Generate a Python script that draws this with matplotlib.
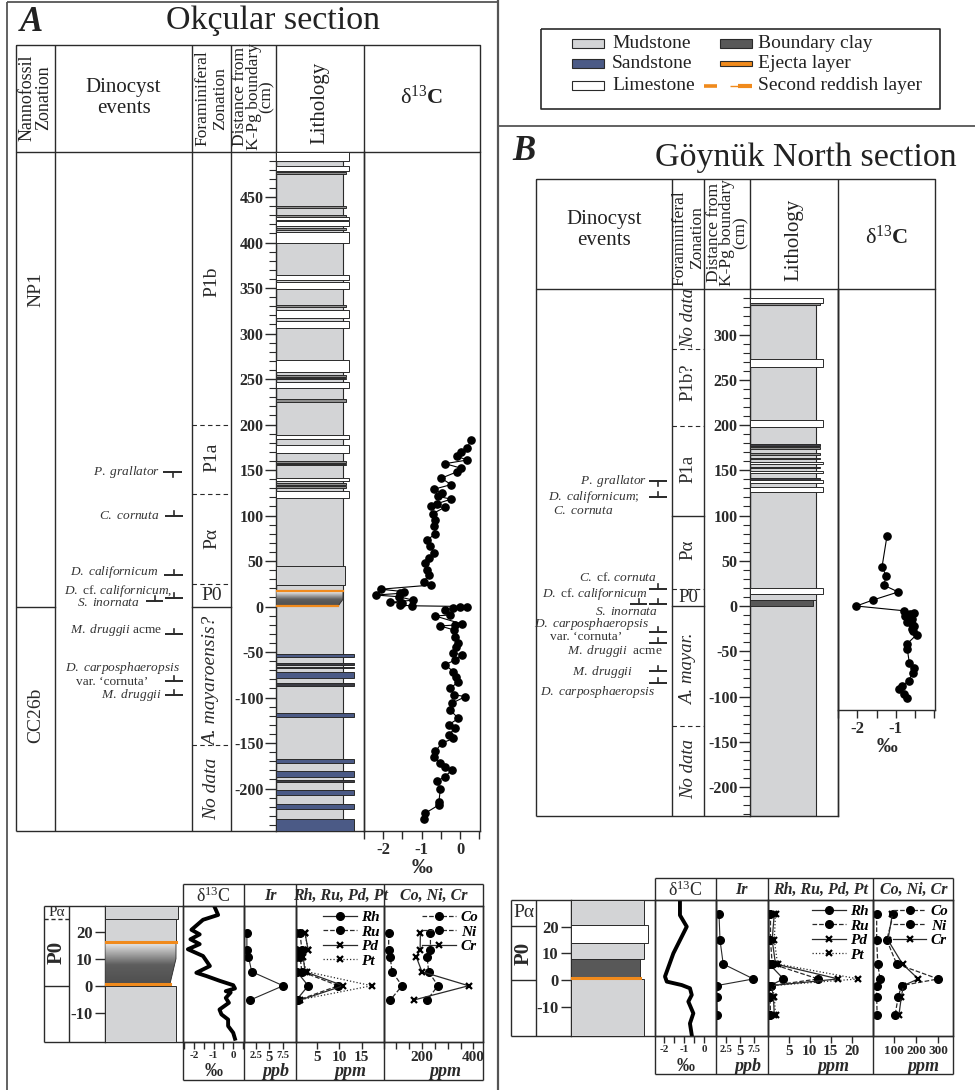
import numpy as np
import matplotlib
matplotlib.use('Agg')
import matplotlib.pyplot as plt
from matplotlib.patches import Rectangle, Polygon
from matplotlib.colors import LinearSegmentedColormap

plt.rcParams['font.family'] = ['Liberation Serif', 'DejaVu Serif']
plt.rcParams['mathtext.fontset'] = 'custom'
plt.rcParams['mathtext.rm'] = 'Liberation Serif'
plt.rcParams['mathtext.it'] = 'Liberation Serif:italic'
plt.rcParams['mathtext.bf'] = 'Liberation Serif:bold'
plt.rcParams['mathtext.bfit'] = 'Liberation Serif:italic:bold'
plt.rcParams['axes.unicode_minus'] = False

INK = '#2a2a2a'
MUD = '#d3d4d6'
SAND = '#4b5a86'
CLAY = '#585858'
ORANGE = '#f08a1c'
THIN = '#8d8d8d'

# ================= DATA =================
# --- A: Okcular section, d13C (depth cm, permil) ---
ok_d13c_depth = [183, 174, 170, 165, 161, 157, 152, 148, 141, 134, 129, 124.5, 121, 118, 113, 110, 109,
                 102, 95, 88, 80, 73, 66, 59, 53, 47.5, 40, 34.6, 27, 23.6, 19, 16.3, 14.5, 12.6,
                 10.8, 7, 4.6, 3.5, 1.5, 0.8, 0, -1, -2, -3.8, -9.3, -10.4, -19, -20.3, -21.4,
                 -25.8, -33, -40, -45, -51, -53, -58.8, -64, -71.6, -77, -82.6, -90, -97, -99,
                 -106, -113.7, -123, -130, -134, -141, -145, -150, -159, -165, -172, -176, -179.6,
                 -187, -192, -200, -214.5, -218, -227, -233]
ok_d13c = [0.28, 0.19, 0.03, -0.08, 0.19, -0.39, 0.03, -0.08, -0.49, -0.23, -0.67, -0.47, -0.57, -0.23,
           -0.60, -0.75, -0.40, -0.71, -0.64, -0.68, -0.64, -0.86, -0.77, -0.68, -0.82, -0.90, -0.86,
           -0.82, -0.95, -0.75, -2.07, -1.45, -1.55, -2.20, -1.60, -1.22, -1.82, -1.52, -1.56, -1.26,
           0.19, 0.00, -0.17, -0.39, -0.26, -0.65, 0.04, -0.13, -0.52, -0.15, -0.13, -0.04, -0.10,
           -0.17, 0.04, -0.13, -0.39, -0.17, -0.10, -0.04, -0.26, -0.15, 0.14, -0.20, -0.26, -0.04,
           -0.30, -0.13, -0.30, -0.17, -0.47, -0.64, -0.68, -0.51, -0.39, -0.21, -0.39, -0.60, -0.51,
           -0.55, -0.55, -0.90, -0.95]

ok_bed_top = [500, 484, 477, 440, 430, 428, 424, 416, 412, 364, 357, 331, 326, 314, 271, 254, 251, 247,
              228, 188, 178, 160, 157, 141, 136, 132, 127, 45, -52.5, -62.5, -66, -71.5, -84, -117.5,
              -168, -180.5, -190.5, -201.5, -217, -234]
ok_bed_bot = [490, 479, 475.5, 438, 428.5, 425, 418, 414, 399, 359, 349, 329, 317, 306, 258, 252, 250,
              240, 225, 184, 169, 158, 155, 138, 134, 130, 119, 24, -56, -64.5, -68, -79, -87.5, -121,
              -172.5, -187.5, -193, -207.5, -222, -246.7]
ok_bed_kind = ['lime', 'lime', 'thin', 'thin', 'thin', 'lime', 'lime', 'thin', 'lime', 'lime', 'lime',
               'thin', 'lime', 'lime', 'lime', 'thin', 'thin', 'lime', 'thin', 'lime', 'lime', 'thin',
               'thin', 'lime', 'thin', 'thin', 'lime', 'mudw', 'sand', 'dark', 'dark', 'sand', 'dark',
               'sand', 'sand', 'sand', 'dark', 'sand', 'sand', 'sand']
ok_mud_span = (490, -246.7)
ok_clay_span = (16.7, 0.3)
ok_reddish = 16.7
ok_ejecta = 0.4

ok_nanno_bounds = [0]
ok_nanno_names = ['NP1', 'CC26b']
ok_nanno_mid = [348, -120]

ok_foram_bounds = [200, 124, 24.5, 0, -152]
ok_foram_solid = [False, False, False, True, False]
ok_foram_names = ['P1b', 'P1a', 'Pα', 'P0', 'A. mayaroensis?', 'No data']
ok_foram_mid = [357, 164, 75, 12.5, -82, -200]

ok_event_text = [r'$\mathit{P.\ grallator}$', r'$\mathit{C.\ cornuta}$', r'$\mathit{D.\ californicum}$',
                 r'$\mathit{D.}$ cf. $\mathit{californicum,}$', r'$\mathit{S.\ inornata}$',
                 r'$\mathit{M.\ druggii}$ acme', r'$\mathit{D.\ carposphaeropsis}$', 'var. ‘cornuta’',
                 r'$\mathit{M.\ druggii}$']
ok_event_depth = [148, 99, 38, 17, 3.5, -26, -68, -82.5, -97]
ok_mark_depth = [148, 99, 34.6, 9.7, 6, -30.5, -82, -97]
ok_mark_up = [False, True, True, True, True, True, True, True]

# --- A: detail of the boundary interval ---
okd_bed_top = [29.5, 24.7, 0]
okd_bed_bot = [24.7, 16.3, -20.7]
okd_bed_kind = ['mudw', 'mud', 'mud']
okd_clay_span = (16.3, 0.7)
okd_reddish = 16.3
okd_ejecta = 0.7
okd_zone_bounds = [24.7, 0]
okd_zone_solid = [False, True]
okd_zone_names = ['Pα', 'P0']
okd_zone_mid = [27.1, 12.3]

okd_d13c_depth = [29, 26.2, 24.4, 20.7, 19, 17.2, 15.4, 13.5, 11, 7.3, 4.8, 3.6, 1.8, 0.2, -1, -2, -2.5,
                  -4.5, -6.3, -8.8, -10.6, -12.5, -14.9, -17.4, -19.6]
okd_d13c = [-0.94, -0.77, -1.54, -2.13, -1.71, -2.18, -1.71, -2.31, -1.54, -1.19, -1.88, -1.37, -0.68,
            0.0, 0.09, -0.38, -0.13, -0.38, -0.22, -0.70, -0.60, -0.26, -0.26, 0.0, 0.09]
okg_depth = [19.4, 13.2, 10.7, 5.2, 0, -5.3]
ok_ir = [0.8, 0.8, 1.1, 1.7, 7.6, 1.4]
ok_rh = [0.5, 0.5, 0.5, 0.6, 3.1, 0.5]
ok_ru = [1.3, 1.7, 1.3, 1.7, 9.8, 0.9]
ok_pd = [2.4, 3.1, 2.0, 2.4, 10.9, 1.3]
ok_pt = [2.4, 3.1, 1.7, 2.8, 17.2, 0.9]
ok_co = [71, 71, 77, 84, 123, 77]
ok_ni = [233, 233, 220, 226, 262, 220]
ok_cr = [194, 193, 178, 200, 381, 168]

# --- B: Goynuk North section ---
gn_d13c_depth = [77.7, 43.4, 33, 23.2, 15.5, 6.6, 0, -5.2, -7.4, -9, -11, -14.7, -16, -18, -20, -22,
                 -25.8, -28, -31.7, -42.4, -48, -62.7, -68, -73.6, -82.8, -88.4, -92, -97.6, -102]
gn_d13c = [-1.23, -1.36, -1.25, -1.32, -0.94, -1.60, -2.03, -0.80, -0.53, -0.62, -0.76, -0.57, -0.62,
           -0.70, -0.58, -0.53, -0.57, -0.55, -0.46, -0.72, -0.70, -0.65, -0.53, -0.56, -0.67, -0.84,
           -0.93, -0.80, -0.72]

gn_bed_top = [340, 334.5, 273.5, 206, 179, 175.5, 169, 164, 159, 154, 149, 141.5, 139.5, 132, 19.6, 13]
gn_bed_bot = [334.5, 333, 264, 197.5, 177, 174, 167, 162, 157, 152, 147, 139.5, 135.5, 125.5, 13, 6.6]
gn_bed_kind = ['lime', 'thin', 'lime', 'lime', 'dark', 'thin', 'thin', 'thin', 'lime', 'thin', 'lime',
               'dark', 'lime', 'lime', 'lime', 'mudw']
gn_mud_span = (333, -232)
gn_clay_span = (6.6, 0)

gn_foram_bounds = [283.5, 199, 100, 19, 0, -132.5]
gn_foram_solid = [False, False, True, False, True, False]
gn_foram_names = ['No data', 'P1b?', 'P1a', 'Pα', 'P0', 'A. mayar.', 'No data']
gn_foram_mid = [318, 247, 152, 62, 9, -70, -180]

gn_event_text = [r'$\mathit{P.\ grallator}$', r'$\mathit{D.\ californicum;}$', r'$\mathit{C.\ cornuta}$',
                 r'$\mathit{C.}$ cf. $\mathit{cornuta}$', r'$\mathit{D.}$ cf. $\mathit{californicum}$',
                 r'$\mathit{S.\ inornata}$', r'$\mathit{D.\ carposphaeropsis}$', "var. ‘cornuta’",
                 r'$\mathit{M.\ druggii}$  acme', r'$\mathit{M.\ druggii}$', r'$\mathit{D.\ carposphaeropsis}$']
gn_event_depth = [138, 121, 105, 31.3, 13.3, -6.3, -20.3, -34, -49.7, -72.6, -94.7]
gn_mark_depth = [138, 120.8, 18.8, 2.2, 2.2, -28.4, -40.5, -72, -85.4]
gn_mark_up = [False, True, True, True, True, True, True, True, True]

# --- B: detail ---
gnd_bed_top = [30, 20.5, 14, 7.7, 0.3]
gnd_bed_bot = [20.5, 14, 7.7, 1.0, -21]
gnd_bed_kind = ['mud', 'lime', 'mud', 'clay', 'mud']
gnd_ejecta = 0.9
gnd_zone_bounds = [20.3, 0]
gnd_zone_solid = [True, True]
gnd_zone_names = ['Pα', 'P0']
gnd_zone_mid = [25.2, 10.1]

gnd_d13c_depth = [29.3, 24.3, 20, 10, 1.3, -0.6, -1.9, -3.1, -5.6, -8.1, -12.5, -16.3, -20.6]
gnd_d13c = [-1.22, -1.22, -0.88, -1.55, -1.97, -1.88, -1.13, -0.72, -0.63, -0.80, -0.55, -0.72, -0.63]
gng_depth = [24.7, 15, 6, 0.4, -2.1, -6.2, -13.1]
gn_ir = [1.25, 1.43, 2.0, 7.4, 0.83, 0.83, 0.95]
gn_rh = [0.2, 0.2, 0.3, 3.7, 0.5, 0.2, 0.2]
gn_ru = [0.6, 0.6, 1.0, 12.0, 0.8, 0.5, 0.6]
gn_pd = [1.5, 1.0, 1.8, 16.8, 0.8, 1.3, 1.5]
gn_pt = [1.8, 1.5, 2.3, 21.6, 1.0, 1.5, 1.8]
gn_co = [25, 25, 30, 40, 25, 25, 27]
gn_ni = [99, 70, 114, 299, 136, 121, 107]
gn_cr = [95, 75, 140, 210, 144, 135, 124]

ITALIC_ZONES = {'A. mayaroensis?', 'A. mayar.', 'No data'}

# ================= FIGURE =================
W, H = 975, 1090
fig = plt.figure(figsize=(W / 100, H / 100), dpi=100)


def px_ax(x0, y0, x1, y1):
    ax = fig.add_axes([x0 / W, 1 - y1 / H, (x1 - x0) / W, (y1 - y0) / H])
    ax.patch.set_visible(False)
    return ax


def spines(ax, show):
    for k, s in ax.spines.items():
        s.set_visible(k in show)
        s.set_color(INK)
        s.set_linewidth(1.0)


cv = px_ax(0, 0, W, H)
cv.set_xlim(0, W)
cv.set_ylim(H, 0)
cv.axis('off')


def ln(xs, ys, lw=1.0, color=INK, **kw):
    cv.plot(xs, ys, color=color, lw=lw, solid_capstyle='butt', **kw)


def rect(x0, y0, x1, y1, lw=1.0):
    ln([x0, x1, x1, x0, x0], [y0, y0, y1, y1, y0], lw=lw)


FACE = {'lime': 'white', 'thin': THIN, 'sand': SAND, 'dark': '#3c3c44', 'mud': MUD, 'mudw': MUD,
        'clay': CLAY}


def draw_beds(ax, x0, tops, bots, kinds, right):
    for t, b, k in zip(tops, bots, kinds):
        ax.add_patch(Rectangle((x0, b), right[k] - x0, t - b, fc=FACE[k], ec=INK, lw=0.7, zorder=3))


def clay_gradient(ax, x0, x_top, x_bot, span, slant):
    top, bot = span
    poly = Polygon([(x0, bot), (x0, top), (x_top, top), (x_top, slant), (x_bot, bot)],
                   closed=True, fc='none', ec=INK, lw=0.6, zorder=4)
    ax.add_patch(poly)
    cmap = LinearSegmentedColormap.from_list('clay', [(0, '#4f4f4f'), (0.45, '#5e5e5e'), (1, '#f4f4f4')])
    im = ax.imshow(np.linspace(0, 1, 100).reshape(-1, 1), extent=[x0, x_top, bot, top], origin='lower',
                   aspect='auto', cmap=cmap, zorder=3)
    im.set_clip_path(poly)


def depth_ticks(ax, majors, minors, size, majlen=8, minlen=5):
    ax.set_yticks(majors, labels=[str(int(v)) for v in majors], fontweight='bold', fontsize=size,
                  color=INK)
    ax.set_yticks(minors, minor=True)
    ax.tick_params(axis='y', which='major', length=majlen, width=1, pad=1, color=INK)
    ax.tick_params(axis='y', which='minor', length=minlen, width=0.8, color=INK)
    ax.set_xticks([])


def events(ax, texts, depths, xs, mdepths, mups, mx0, mx1, tick):
    for t, d, x in zip(texts, depths, xs):
        ax.text(x, d, t, ha='right', va='center', fontsize=9.6, color='#333333')
    for d, up, a, b in zip(mdepths, mups, mx0, mx1):
        ax.plot([a, b], [d, d], color=INK, lw=1.4, solid_capstyle='butt')
        xm = (a + b) / 2
        ax.plot([xm, xm], [d, d + (tick if up else -tick)], color=INK, lw=1.2)


def zone_col(ax, xa, xb, bounds, solid, names, mids, size=14):
    for d, s in zip(bounds, solid):
        ax.plot([xa, xb], [d, d], color=INK, lw=1.0 if s else 0.8, ls='-' if s else (0, (4, 3)))
    for n, m in zip(names, mids):
        rot = 0 if n == 'P0' else 90
        ax.text((xa + xb) / 2, m, n, rotation=rot, ha='center', va='center', fontsize=size,
                style='italic' if n in ITALIC_ZONES else 'normal', color=INK)


# ---------------- frames ----------------
ln([7, 7], [2, H], lw=1.3, color='#555555')
ln([7, 498], [2, 2], lw=1.3, color='#555555')
ln([498, 498], [0, H], lw=1.6, color='#555555')
ln([498, W], [126, 126], lw=1.3, color='#555555')

cv.text(20, 31, 'A', fontsize=25, fontweight='bold', style='italic', va='baseline', color='#222')
cv.text(273, 29, 'Okçular section', fontsize=24.5, ha='center', va='baseline', color='#222')
cv.text(512, 160, 'B', fontsize=25, fontweight='bold', style='italic', va='baseline', color='#222')
cv.text(806, 166, 'Göynük North section', fontsize=24.5, ha='center', va='baseline', color='#222')

# legend
rect(541, 29, 940, 109, lw=1.2)
leg_items = [('Mudstone', MUD, 572, 43.3), ('Sandstone', SAND, 572, 63.3), ('Limestone', 'white', 572, 85),
             ('Boundary clay', CLAY, 720, 43.3)]
for name, c, x, y in leg_items:
    cv.add_patch(Rectangle((x, y - 4.5), 31.5, 9, fc=c, ec=INK, lw=0.8))
    cv.text(x + 40 if x < 700 else x + 38, y, name, fontsize=14, va='center', color='#222')
cv.add_patch(Rectangle((720, 61), 31.5, 4.5, fc=ORANGE, ec=INK, lw=0.8))
cv.text(758, 63.3, 'Ejecta layer', fontsize=14, va='center', color='#222')
ln([704, 717], [85.5, 85.5], lw=2.6, color=ORANGE)
ln([730, 738], [85.5, 85.5], lw=1.0, color=ORANGE)
ln([738, 752], [85.5, 85.5], lw=3.0, color=ORANGE)
cv.text(758, 85, 'Second reddish layer', fontsize=14, va='center', color='#222')

# ---------------- A header ----------------
rect(16, 45, 480, 152)
for x in [55, 192, 231, 276, 364]:
    ln([x, x], [45, 152])
for x in [16, 55, 192, 231]:
    ln([x, x], [152, 831])
ln([16, 276], [831, 831])
cv.text(35.5, 97.5, 'Nannofossil\nZonation', rotation=90, ha='center', va='center', fontsize=13,
        linespacing=1.0, color='#222')
cv.text(123.5, 98, 'Dinocyst\nevents', ha='center', va='center', fontsize=15, linespacing=1.15,
        color='#222')
cv.text(211.5, 98.5, 'Foraminiferal\nZonation', rotation=90, ha='center', va='center', fontsize=12.5,
        linespacing=1.1, color='#222')
cv.text(253.5, 97, 'Distance from\nK-Pg boundary\n(cm)', rotation=90, ha='center', va='center',
        fontsize=12.5, linespacing=0.78, color='#222')
cv.text(320, 103, 'Lithology', rotation=90, ha='center', va='center', fontsize=15, color='#222')
cv.text(422, 97, r'δ$^{13}\mathbf{C}$', ha='center', va='center', fontsize=16, color='#222')

# ---------------- A body ----------------
A_YLIM = (-246.7, 499.5)
bA = px_ax(16, 152, 480, 831)
bA.set_xlim(16, 480)
bA.axis('off')
zone_col(bA, 16, 55, ok_nanno_bounds, [True], ok_nanno_names, ok_nanno_mid)
zone_col(bA, 192, 231, ok_foram_bounds, ok_foram_solid, ok_foram_names, ok_foram_mid)
events(bA, ok_event_text, ok_event_depth, [160, 160, 158, 172, 140, 162, 180, 148, 162],
       ok_mark_depth, ok_mark_up, [163, 165, 164, 165, 146, 165, 165, 165],
       [182, 183, 183, 183, 163, 183, 183, 183], 5.5)
bA.set_ylim(A_YLIM)

lA = px_ax(276, 152, 364, 831)
spines(lA, ['left', 'right', 'bottom'])
lA.add_patch(Rectangle((276, ok_mud_span[1]), 343 - 276, ok_mud_span[0] - ok_mud_span[1], fc=MUD,
                       ec=INK, lw=0.8, zorder=2))
draw_beds(lA, 276, ok_bed_top, ok_bed_bot, ok_bed_kind,
          {'lime': 349, 'thin': 346, 'sand': 354, 'dark': 354, 'mudw': 345, 'mud': 343})
clay_gradient(lA, 276, 343, 338, ok_clay_span, 8)
lA.plot([276, 343], [ok_reddish, ok_reddish], color=ORANGE, lw=1.6, zorder=5)
lA.plot([276, 338], [ok_ejecta, ok_ejecta], color=ORANGE, lw=1.6, zorder=5)
lA.set_xlim(276, 364)
lA.set_ylim(A_YLIM)
depth_ticks(lA, np.arange(-200, 451, 50), np.arange(-240, 500, 10), 11.5)

dA = px_ax(364, 152, 480, 831)
spines(dA, ['left', 'right', 'bottom'])
dA.plot(ok_d13c, ok_d13c_depth, color='black', lw=0.8, marker='o', ms=5.2, mfc='black', mec='black')
dA.set_xlim(-2.49, 0.52)
dA.set_ylim(A_YLIM)
dA.set_yticks([])
dA.set_xticks([-2, -1, 0], labels=['-2', '-1', '0'], fontweight='bold', fontsize=12)
dA.set_xticks([-2.5, -1.5, -0.5, 0.5], minor=True)
dA.tick_params(axis='x', which='both', length=6, width=1, pad=2, colors=INK)
dA.set_xlabel('‰', fontsize=15, fontweight='bold', labelpad=0, color=INK)

# ---------------- B header ----------------
rect(535.7, 179, 935, 289)
for x in [672.3, 704.3, 750, 838.3]:
    ln([x, x], [179, 289])
for x in [535.7, 672.3, 704.3, 838.3]:
    ln([x, x], [289, 816])
ln([535.7, 750], [816, 816])
cv.text(604, 230, 'Dinocyst\nevents', ha='center', va='center', fontsize=15, linespacing=1.15,
        color='#222')
cv.text(688.3, 238, 'Foraminiferal\nZonation', rotation=90, ha='center', va='center', fontsize=12.5,
        linespacing=1.1, color='#222')
cv.text(727, 233, 'Distance from\nK-Pg boundary\n(cm)', rotation=90, ha='center', va='center',
        fontsize=12.5, linespacing=0.78, color='#222')
cv.text(794, 240, 'Lithology', rotation=90, ha='center', va='center', fontsize=15, color='#222')
cv.text(886.7, 237, r'δ$^{13}\mathbf{C}$', ha='center', va='center', fontsize=16, color='#222')

# ---------------- B body ----------------
B_YLIM = (-232.0, 350.3)
bB = px_ax(535.7, 289, 838.3, 816)
bB.set_xlim(535.7, 838.3)
bB.axis('off')
zone_col(bB, 672.3, 704.3, gn_foram_bounds, gn_foram_solid, gn_foram_names, gn_foram_mid, size=13.5)
events(bB, gn_event_text, gn_event_depth, [647, 639, 614, 657, 647, 658, 649, 622, 663, 633, 655],
       gn_mark_depth, gn_mark_up, [649, 649, 649, 649, 630, 649, 649, 649, 649],
       [667, 667, 667, 667, 647, 667, 667, 667, 667], 5.5)
bB.set_ylim(B_YLIM)

lB = px_ax(750, 289, 838.3, 816)
spines(lB, ['left', 'right', 'bottom'])
lB.add_patch(Rectangle((750, gn_mud_span[1]), 816 - 750, gn_mud_span[0] - gn_mud_span[1], fc=MUD,
                       ec=INK, lw=0.8, zorder=2))
draw_beds(lB, 750, gn_bed_top, gn_bed_bot, gn_bed_kind,
          {'lime': 823, 'thin': 820, 'dark': 820, 'mudw': 816, 'mud': 816})
lB.add_patch(Rectangle((750, gn_clay_span[1]), 812.7 - 750, gn_clay_span[0] - gn_clay_span[1],
                       fc=CLAY, ec=INK, lw=0.7, zorder=3))
lB.set_xlim(750, 838.3)
lB.set_ylim(B_YLIM)
depth_ticks(lB, np.arange(-200, 301, 50), np.arange(-230, 350, 10), 11.5)

dB = px_ax(838.3, 289, 935, 710)
spines(dB, ['left', 'right', 'bottom'])
dB.plot(gn_d13c, gn_d13c_depth, color='black', lw=0.8, marker='o', ms=5.2, mfc='black', mec='black')
dB.set_xlim(-2.5, 0.02)
dB.set_ylim(-114.9, 350.3)
dB.set_yticks([])
dB.set_xticks([-2, -1], labels=['-2', '-1'], fontweight='bold', fontsize=12)
dB.set_xticks([-2.5, -1.5, -0.5, 0], minor=True)
dB.tick_params(axis='x', which='both', length=6, width=1, pad=2, colors=INK)
dB.set_xlabel('‰', fontsize=15, fontweight='bold', labelpad=0, color=INK)


# ---------------- detail panels ----------------
def geo_ax(x0, x1, L, xlim, majors, labels, minors, size):
    ax = px_ax(x0, L['y_top'], x1, L['y_bot'])
    spines(ax, ['left', 'right', 'bottom', 'top'])
    ax.set_xlim(xlim)
    ax.set_ylim(L['ylim'])
    ax.set_yticks([])
    ax.set_xticks(majors, labels=labels, fontweight='bold', fontsize=size)
    ax.set_xticks(minors, minor=True)
    ax.tick_params(axis='x', which='both', length=5, width=1, pad=1.5, colors=INK)
    return ax


def detail(L, zb, zs, zn, zm, btop, bbot, bkind, right, clay_span, reddish, ejecta,
           dd, dv, gd, ir, rh, ru, pd, pt, co, ni, cr, cfg):
    xz, xd, xl, xe = L['x_zone'], L['x_dep'], L['x_lit'], L['x_lit_end']
    xc = L['x_cols']
    yh, yt, yb, ya = L['y_head'], L['y_top'], L['y_bot'], L['y_ax']
    # frames
    ln([xz, xc[-1]], [yt, yt])
    ln([xz, xc[-1]], [yb, yb])
    ln([xz, xz], [yt, yb])
    ln([xd, xd], [yt, yb])
    ln([xc[0], xc[-1]], [yh, yh])
    ln([xc[0], xc[-1]], [ya, ya])
    for x in xc:
        ln([x, x], [yh, ya])
    # zones
    zax = px_ax(xz, yt, xd, yb)
    zax.set_xlim(xz, xd)
    zax.axis('off')
    for d, s in zip(zb, zs):
        zax.plot([xz, xd], [d, d], color=INK, lw=1.0, ls='-' if s else (0, (3, 2)))
    zax.text((xz + xd) / 2, zm[0], zn[0], ha='center', va='center', fontsize=L['pa_size'], color=INK)
    zax.text((xz + xd) / 2, zm[1], zn[1], rotation=90, ha='center', va='center', fontsize=15,
             fontweight='bold', color=INK)
    zax.set_ylim(L['ylim'])
    # lithology + depth
    lax = px_ax(xl, yt, xe, yb)
    spines(lax, ['left'])
    draw_beds(lax, xl, btop, bbot, bkind, right)
    if clay_span is not None:
        clay_gradient(lax, xl, right['mud'], right['mud'] - 6, clay_span, 10)
    if reddish is not None:
        lax.plot([xl, right['mud']], [reddish, reddish], color=ORANGE, lw=2.2, zorder=5)
    lax.plot([xl, right['clay'] if 'clay' in right else right['mud'] - 6], [ejecta, ejecta],
             color=ORANGE, lw=2.2, zorder=5)
    lax.set_xlim(xl, xe)
    lax.set_ylim(L['ylim'])
    depth_ticks(lax, [-10, 0, 10, 20], [], 12, majlen=7)
    lax.tick_params(axis='y', pad=2)
    # d13C
    a = geo_ax(xc[0], xc[1], L, *cfg['d13'])
    a.plot(dv, dd, color='black', lw=2.8, solid_joinstyle='round')
    # Ir
    a = geo_ax(xc[1], xc[2], L, *cfg['ir'])
    for t in a.get_xticklabels():
        if t.get_text() == '5':
            t.set_fontsize(10.5)
    a.plot(ir, gd, color=INK, lw=0.8, marker='o', ms=5.5, mfc='black', mec='black')
    # PGE
    a = geo_ax(xc[2], xc[3], L, *cfg['pge'])
    a.plot(rh, gd, color=INK, lw=0.9, ls='-', marker='o', ms=5.5, mfc='black', mec='black', label='Rh')
    a.plot(ru, gd, color=INK, lw=0.9, ls='--', marker='o', ms=5.5, mfc='black', mec='black', label='Ru')
    a.plot(pd, gd, color=INK, lw=0.9, ls='-', marker='x', ms=5, mew=1.6, mec='black', label='Pd')
    a.plot(pt, gd, color=INK, lw=0.9, ls=':', marker='x', ms=5, mew=1.6, mec='black', label='Pt')
    a.legend(loc='upper right', frameon=False, prop={'weight': 'bold', 'style': 'italic', 'size': 11},
             handlelength=2.2, handletextpad=0.3, labelspacing=0.05, borderaxespad=0.1, borderpad=0.2)
    # Co Ni Cr
    a = geo_ax(xc[3], xc[4], L, *cfg['co'])
    a.plot(co, gd, color=INK, lw=0.9, ls='--', marker='o', ms=5.5, mfc='black', mec='black', label='Co')
    a.plot(ni, gd, color=INK, lw=0.9, ls='--', marker='o', ms=5.5, mfc='black', mec='black', label='Ni')
    a.plot(cr, gd, color=INK, lw=0.9, ls='-', marker='x', ms=5, mew=1.6, mec='black', label='Cr')
    a.legend(loc='upper right', frameon=False, prop={'weight': 'bold', 'style': 'italic', 'size': 11},
             handlelength=2.2, handletextpad=0.3, labelspacing=0.05, borderaxespad=0.1, borderpad=0.2)
    # headers and units
    heads = [r'δ$^{13}$C', 'Ir', 'Rh, Ru, Pd, Pt', 'Co, Ni, Cr']
    for i, h in enumerate(heads):
        xm = (xc[i] + xc[i + 1]) / 2
        if i == 0:
            cv.text(xm, (yh + yt) / 2 + 1, h, ha='center', va='center', fontsize=13, color=INK)
        else:
            cv.text(xm, (yh + yt) / 2 + 1, h, ha='center', va='center', fontsize=11.5,
                    fontweight='bold', style='italic', color=INK)
    units = ['‰', 'ppb', 'ppm', 'ppm']
    for i, u in enumerate(units):
        xm = (xc[i] + xc[i + 1]) / 2
        if i > 0:
            xm += (xc[i + 1] - xc[i]) * 0.12
        cv.text(xm, ya - 8, u, ha='center', va='center', fontsize=13, fontweight='bold',
                style='normal' if i == 0 else 'italic', color=INK)


LA = dict(x_zone=44, x_dep=69, x_lit=105, x_lit_end=183, x_cols=[183, 244, 296, 384.3, 483],
          y_head=884.3, y_top=906, y_bot=1041.7, y_ax=1080, ylim=(-20.7, 29.5), pa_size=11)
cfgA = {'d13': ((-2.56, 0.55), [-2, -1, 0], ['-2', '-1', '0'], [-2.5, -1.5, -0.5, 0.5], 8),
        'ir': ((0.26, 10.0), [2.5, 5, 7.5], ['2.5', '5', '7.5'], [], 7.5),
        'pge': ((0.4, 20.0), [5, 10, 15], ['5', '10', '15'], [20], 11),
        'co': ((54, 437), [200, 400], ['200', '400'], [100, 150, 250, 300, 350], 11)}
detail(LA, okd_zone_bounds, okd_zone_solid, okd_zone_names, okd_zone_mid,
       okd_bed_top, okd_bed_bot, okd_bed_kind, {'mud': 176, 'mudw': 178},
       okd_clay_span, okd_reddish, okd_ejecta,
       okd_d13c_depth, okd_d13c, okg_depth, ok_ir, ok_rh, ok_ru, ok_pd, ok_pt, ok_co, ok_ni, ok_cr, cfgA)

LB = dict(x_zone=511, x_dep=536, x_lit=571, x_lit_end=655, x_cols=[655, 715.7, 767.7, 873.3, 953.3],
          y_head=878.3, y_top=900, y_bot=1036, y_ax=1074.3, ylim=(-21, 30), pa_size=14)
cfgB = {'d13': ((-2.47, 0.57), [-2, -1, 0], ['-2', '-1', '0'], [-1.5, -0.5], 8),
        'ir': ((0.66, 9.95), [2.5, 5, 7.5], ['2.5', '5', '7.5'], [], 7.5),
        'pge': ((-0.07, 25.2), [5, 10, 15, 20], ['5', '10', '15', '20'], [], 11),
        'co': ((10, 366), [100, 200, 300], ['100', '200', '300'], [], 9.5)}
detail(LB, gnd_zone_bounds, gnd_zone_solid, gnd_zone_names, gnd_zone_mid,
       gnd_bed_top, gnd_bed_bot, gnd_bed_kind, {'mud': 644.3, 'lime': 648.3, 'clay': 640},
       None, None, gnd_ejecta,
       gnd_d13c_depth, gnd_d13c, gng_depth, gn_ir, gn_rh, gn_ru, gn_pd, gn_pt, gn_co, gn_ni, gn_cr, cfgB)

fig.savefig('out.png', dpi=100)
